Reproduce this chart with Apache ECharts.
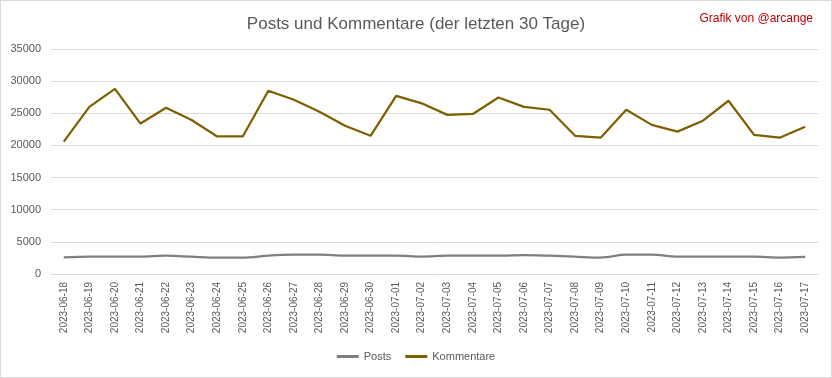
<!DOCTYPE html>
<html>
<head>
<meta charset="utf-8">
<script src="https://cdn.jsdelivr.net/npm/echarts@6/dist/echarts.min.js"></script>
<style>
  html, body { margin: 0; padding: 0; background: #fff; }
  #chart { width: 830px; height: 376px; border: 1px solid #d9d9d9; }
</style>
</head>
<body>
<div id="chart"></div>
<script>
// Tage
const days = [
  '2023-06-18', '2023-06-19', '2023-06-20', '2023-06-21', '2023-06-22',
  '2023-06-23', '2023-06-24', '2023-06-25', '2023-06-26', '2023-06-27',
  '2023-06-28', '2023-06-29', '2023-06-30', '2023-07-01', '2023-07-02',
  '2023-07-03', '2023-07-04', '2023-07-05', '2023-07-06', '2023-07-07',
  '2023-07-08', '2023-07-09', '2023-07-10', '2023-07-11', '2023-07-12',
  '2023-07-13', '2023-07-14', '2023-07-15', '2023-07-16', '2023-07-17'
]

const posts = [
  2600, 2700, 2700, 2700, 2850, 2700, 2550, 2550, 2850, 3000,
  3000, 2850, 2850, 2850, 2700, 2850, 2850, 2850, 2950, 2850,
  2700, 2550, 3000, 3000, 2700, 2700, 2700, 2700, 2550, 2650
]

const kommentare = [
  20600, 26000, 28800, 23400, 25850, 23950, 21400, 21400, 28500, 27100,
  25250, 23050, 21500, 27700, 26550, 24750, 24900, 27450, 26000, 25550,
  21500, 21200, 25550, 23200, 22150, 23850, 26950, 21650, 21200, 22900
]

const yTicks = { min: 0, max: 35000, interval: 5000 }

const TEXT = '#595959'
const GRID = '#d9d9d9'

let chart = echarts.init(document.getElementById('chart'))

chart.setOption({
  animation: false,
  textStyle: { fontFamily: 'Liberation Sans, sans-serif' },
  title: [
    {
      text: 'Posts und Kommentare (der letzten 30 Tage)',
      left: 'center',
      top: 10,
      textStyle: { color: TEXT, fontSize: 17, fontWeight: 'normal' }
    },
    {
      text: 'Grafik von @arcange',
      right: 13,
      top: 7,
      textStyle: { color: '#c00000', fontSize: 12, fontWeight: 'normal' }
    }
  ],
  legend: {
    bottom: 10,
    left: 'center',
    itemWidth: 22,
    itemHeight: 3,
    itemGap: 14,
    icon: 'rect',
    textStyle: { color: TEXT, fontSize: 11 },
    data: ['Posts', 'Kommentare']
  },
  grid: { left: 50, right: 13, top: 48, bottom: 103 },
  xAxis: {
    type: 'category',
    data: days,
    boundaryGap: true,
    axisLine: { lineStyle: { color: GRID } },
    axisTick: { show: false },
    axisLabel: { rotate: 90, color: TEXT, fontSize: 10, interval: 0, margin: 8 }
  },
  yAxis: {
    type: 'value',
    min: yTicks.min,
    max: yTicks.max,
    interval: yTicks.interval,
    axisLine: { show: false },
    axisTick: { show: false },
    axisLabel: { color: TEXT, fontSize: 11, margin: 10, formatter: v => String(v) },
    splitLine: { lineStyle: { color: GRID } }
  },
  series: [
    {
      name: 'Posts',
      type: 'line',
      data: posts,
      smooth: 0.3,
      symbol: 'none',
      itemStyle: { color: '#7f7f7f' },
      lineStyle: { color: '#7f7f7f', width: 2.25 }
    },
    {
      name: 'Kommentare',
      type: 'line',
      data: kommentare,
      symbol: 'none',
      itemStyle: { color: '#7f6000' },
      lineStyle: { color: '#7f6000', width: 2.25 }
    }
  ]
})
</script>
</body>
</html>
